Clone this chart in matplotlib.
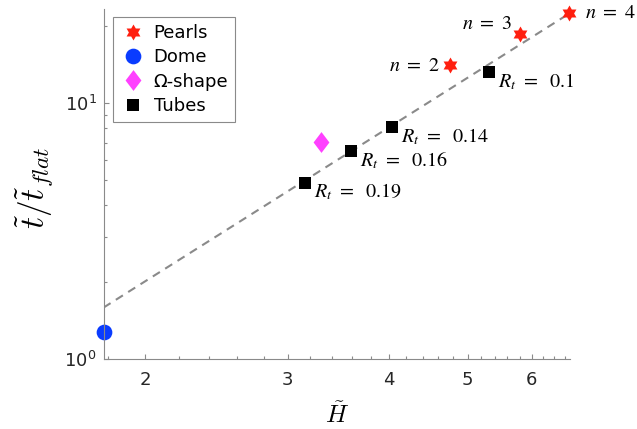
import numpy as np
import matplotlib
matplotlib.use("Agg")
import matplotlib.pyplot as plt
from matplotlib.path import Path
from matplotlib.ticker import FixedLocator, FixedFormatter, FuncFormatter, NullFormatter

# data (log-log)
pearls_H = [4.76, 5.81, 6.68]
pearls_t = [14.1, 18.6, 22.6]
pearls_lbl = ["$n\\ =\\ 2$", "$n\\ =\\ 3$", "$n\\ =\\ 4$"]

dome_H = [1.777]
dome_t = [1.28]

omega_H = [3.30]
omega_t = [7.04]

tubes_H = [3.15, 3.59, 4.03, 5.32]
tubes_t = [4.89, 6.49, 8.06, 13.2]
tubes_Rt = ["0.19", "0.16", "0.14", "0.1"]

fit_exp = 2.0
fit_coef = 0.503

xlim = (1.777, 6.69)
ylim = (1.0, 23.3)

# hexagram marker (6-point star)
ang = np.deg2rad(90 + 30 * np.arange(12))
rad = np.where(np.arange(12) % 2 == 0, 1.0, 1 / np.sqrt(3))
hexagram = Path(np.column_stack([rad * np.cos(ang), rad * np.sin(ang)]).tolist() + [[0, 1]], closed=True)
diamond = Path([[0, 1], [0.76, 0], [0, -1], [-0.76, 0], [0, 1]], closed=True)

red = "#ff1f0f"
blue = "#0a3cff"
magenta = "#ff40ff"
gray = "#8a8a8a"

fig = plt.figure(figsize=(6.37, 4.29), dpi=100)
ax = fig.add_axes([0.1625, 0.1632, 0.7323, 0.8152])
ax.set_xscale("log")
ax.set_yscale("log")

xs = np.linspace(xlim[0], xlim[1], 50)
ax.plot(xs, fit_coef * xs ** fit_exp, color=gray, lw=1.5, dashes=(4, 3), zorder=1)

ax.plot(pearls_H, pearls_t, ls="none", marker=hexagram, ms=11.5, color=red, mew=0, label="Pearls", clip_on=False)
ax.plot(dome_H, dome_t, ls="none", marker="o", ms=11.3, color=blue, mew=0, label="Dome", clip_on=False)
ax.plot(omega_H, omega_t, ls="none", marker=diamond, ms=15, color=magenta, mew=0, label="Ω-shape")
ax.plot(tubes_H, tubes_t, ls="none", marker="s", ms=8, color="black", mew=0, label="Tubes")

# text annotations
pearl_off = [(-10, 0, "right"), (-8, 11, "right"), (16, 0, "left")]
for h, t, s, (dx, dy, ha) in zip(pearls_H, pearls_t, pearls_lbl, pearl_off):
    ax.annotate(s, (h, t), xytext=(dx, dy), textcoords="offset pixels", ha=ha, va="center",
                fontsize=14.5, math_fontfamily="stix")
for h, t, r in zip(tubes_H, tubes_t, tubes_Rt):
    ax.annotate("$R_t\\ =\\ \\ " + r + "$", (h, t), xytext=(9, -9), textcoords="offset pixels",
                ha="left", va="center", fontsize=14.5, math_fontfamily="stix")

ax.set_xlim(*xlim)
ax.set_ylim(*ylim)

ax.xaxis.set_major_locator(FixedLocator([2, 3, 4, 5, 6]))
ax.xaxis.set_major_formatter(FixedFormatter(["2", "3", "4", "5", "6"]))
ax.xaxis.set_minor_locator(FixedLocator([1.8] + list(np.arange(2.2, 6.7, 0.2))))
ax.xaxis.set_minor_formatter(NullFormatter())
ax.yaxis.set_major_locator(FixedLocator([1, 10]))
ax.yaxis.set_major_formatter(FuncFormatter(lambda v, p: "$\\mathregular{10^{%d}}$" % round(np.log10(v))))
ax.yaxis.set_minor_locator(FixedLocator([2, 3, 4, 5, 6, 7, 8, 9, 20]))
ax.yaxis.set_minor_formatter(NullFormatter())

for s in ["top", "right"]:
    ax.spines[s].set_visible(False)
for s in ["left", "bottom"]:
    ax.spines[s].set_color(gray)
    ax.spines[s].set_linewidth(0.8)
ax.tick_params(which="both", direction="in", color=gray, labelcolor="#262626", labelsize=13)
ax.tick_params(which="major", length=3.5, width=0.8)
ax.tick_params(which="minor", length=2.2, width=0.8)
ax.tick_params(axis="x", pad=9)
ax.tick_params(axis="y", pad=5)

ax.set_xlabel("$\\tilde{H}$", fontsize=18, math_fontfamily="cm")
ax.xaxis.set_label_coords(0.5, -0.123)
ax.set_ylabel("$\\tilde{t}/\\tilde{t}_{flat}$", fontsize=24, math_fontfamily="cm")
ax.yaxis.set_label_coords(-0.105, 0.49)

leg = ax.legend(loc="upper left", bbox_to_anchor=(113 / 637, 1 - 16.7 / 429), bbox_transform=fig.transFigure,
                borderaxespad=0, fontsize=13, frameon=True, fancybox=False, framealpha=1,
                edgecolor=gray, handlelength=1.4, handletextpad=0.45, borderpad=0.4, labelspacing=0.35)
leg.get_frame().set_linewidth(0.8)

fig.savefig("out.png", dpi=100)
